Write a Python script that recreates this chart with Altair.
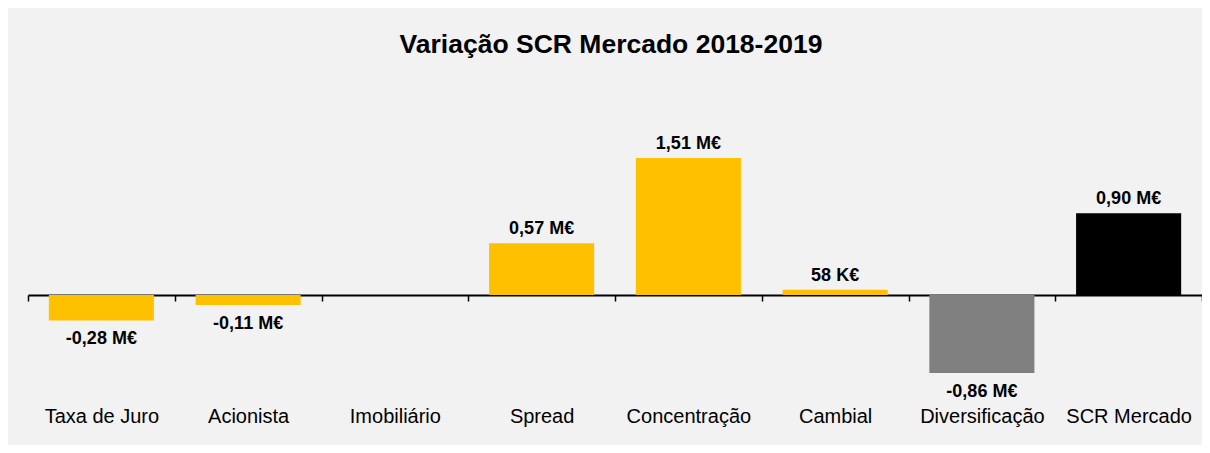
import json
import altair as alt
import pandas as pd

categories = ["Taxa de Juro", "Acionista", "Imobiliário", "Spread", "Concentração",
              "Cambial", "Diversificação", "SCR Mercado"]
values = [-0.28, -0.11, 0.0, 0.57, 1.51, 0.058, -0.86, 0.90]
value_labels = ["-0,28 M€", "-0,11 M€", "", "0,57 M€", "1,51 M€", "58 K€", "-0,86 M€", "0,90 M€"]
kinds = ["Risco", "Risco", "Risco", "Risco", "Risco", "Risco", "Diversificação", "Total"]
kind_names = ["Risco", "Diversificação", "Total"]
kind_colors = ["#FFC000", "#808080", "#000000"]

n = len(categories)
df = pd.DataFrame({"cat": categories, "idx": list(range(n)), "value": values,
                   "label": value_labels, "kind": kinds})

FONT = "Liberation Sans, Arial, sans-serif"
W, H = 1174, 305
ZERO_PX = 205
PX_PER_UNIT = 90.8
HALF_BAR = 0.358  # half bar width, in category steps
ys = alt.Scale(domain=[-(H - ZERO_PX) / PX_PER_UNIT, ZERO_PX / PX_PER_UNIT], nice=False, zero=False)
xs = alt.Scale(domain=[-0.5, n - 0.5], nice=False, zero=False)

boundaries = [i - 0.5 for i in range(n + 1)]
label_expr = json.dumps(categories, ensure_ascii=False) + "[round(datum.value)]"

base = alt.Chart(df)

bars = base.transform_calculate(
    x0=f"datum.idx - {HALF_BAR}", x1=f"datum.idx + {HALF_BAR}"
).mark_bar().encode(
    x=alt.X("x0:Q", scale=xs,
            axis=alt.Axis(orient="bottom", offset=-(H - ZERO_PX), values=boundaries,
                          labels=False, title=None, domainColor="black", domainWidth=1.8,
                          tickColor="black", tickWidth=1.5, tickSize=6, grid=False)),
    x2="x1:Q",
    y=alt.Y("value:Q", scale=ys, axis=None),
    y2=alt.datum(0),
    color=alt.Color("kind:N", scale=alt.Scale(domain=kind_names, range=kind_colors), legend=None),
)

cat_labels = base.mark_text(opacity=0).encode(
    x=alt.X("idx:Q", scale=xs,
            axis=alt.Axis(orient="top", offset=-340, values=list(range(n)), labelExpr=label_expr,
                          labelPadding=8, labelBaseline="alphabetic", labelAlign="center",
                          domain=False, ticks=False, tickSize=0, labelAngle=0, title=None,
                          labelFont=FONT, labelFontSize=20, labelColor="#000000", grid=False,
                          labelLimit=300, labelOverlap=False, labelFlush=False)),
    y=alt.Y("value:Q", scale=ys, axis=None),
    text="label:N",
)

pos = base.transform_filter("datum.value > 0").mark_text(
    baseline="alphabetic", dy=-9, font=FONT, fontSize=18, fontWeight="bold", color="#000000"
).encode(
    x=alt.X("idx:Q", scale=xs, axis=None),
    y=alt.Y("value:Q", scale=ys, axis=None),
    text="label:N",
)

neg = base.transform_filter("datum.value < 0").mark_text(
    baseline="alphabetic", dy=24, font=FONT, fontSize=18, fontWeight="bold", color="#000000"
).encode(
    x=alt.X("idx:Q", scale=xs, axis=None),
    y=alt.Y("value:Q", scale=ys, axis=None),
    text="label:N",
)

chart = alt.layer(bars, cat_labels, pos, neg).resolve_axis(x="independent").properties(
    width=W, height=H,
    autosize=alt.AutoSizeParams(type="none"),
    padding={"left": 20, "top": 82, "right": 0, "bottom": 50},
    title=alt.Title("Variação SCR Mercado 2018-2019", font=FONT, fontSize=26.5, fontWeight="bold",
                    color="#000000", anchor="middle", frame="group", offset=11, dx=-4,
                    baseline="alphabetic"),
).configure(background="#f2f2f2").configure_view(stroke="#f2f2f2")

chart.save("out.html", embed_options={"renderer": "svg", "actions": False})
